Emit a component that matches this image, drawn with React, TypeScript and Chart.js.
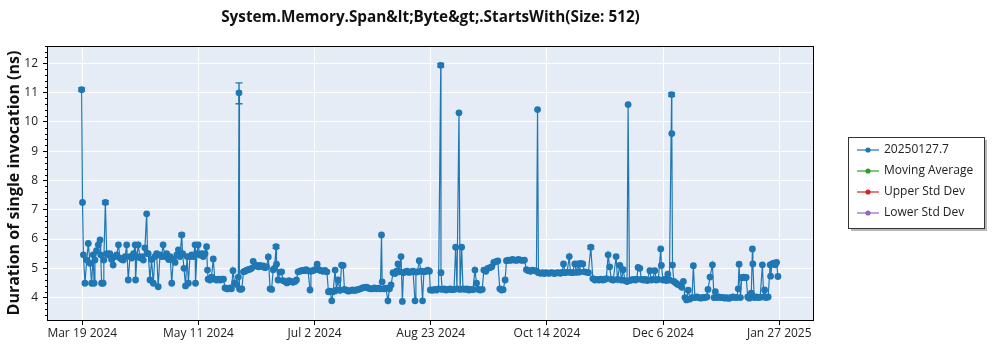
import React, { useEffect, useRef } from "react";
import { Chart, registerables } from "chart.js";

Chart.register(...registerables);

// Day offsets are counted from Mar 19 2024 (day 0).
const titleText = "System.Memory.Span&lt;Byte&gt;.StartsWith(Size: 512)";
const yTitle = "Duration of single invocation (ns)";
const tickLabels = ["Mar 19 2024", "May 11 2024", "Jul 2 2024", "Aug 23 2024", "Oct 14 2024", "Dec 6 2024", "Jan 27 2025"];
const tickDays = [0, 52.33, 104.67, 157, 209.33, 261.67, 314];
const yTickValues = [4, 5, 6, 7, 8, 9, 10, 11, 12];

const seriesNames = ["20250127.7", "Moving Average", "Upper Std Dev", "Lower Std Dev"];
const seriesColors = ["#1f77b4", "#2ca02c", "#d62728", "#9467bd"];

// Mar - May
const springDays = [-0.3, 0.1, 0.5, 1.2, 2.0, 2.7, 3.5, 4.2, 4.9, 5.3, 5.7, 6.4, 7.2, 8.0, 8.3, 8.7, 9.4, 9.7, 10.4, 11.0, 11.8, 12.4, 13.2, 13.9, 14.8, 15.5, 16.3, 17.0, 17.8, 18.5, 19.3, 20.0, 20.7, 21.5, 22.3, 23.1, 23.8, 24.0, 24.6, 25.2, 26.0, 26.8, 27.5, 28.2, 29.0, 29.4, 29.7, 30.5, 31.2, 32.0, 32.7, 33.5, 34.2, 35.0, 35.7, 36.4, 37.2, 38.0, 38.9, 39.6, 40.3, 41.0, 41.8, 42.6, 43.3, 44.0, 44.8, 45.2, 45.8, 46.5, 47.2, 47.8, 48.5, 49.3, 50.0, 50.8, 51.0, 51.7, 52.2, 53.0, 53.8, 54.5, 55.3, 56.0, 56.4, 56.7, 57.5, 58.2, 59.0, 59.7, 60.5, 61.4, 62.1, 63.0, 63.6, 64.3, 65.1, 65.9, 66.6, 67.2, 67.9, 68.6, 69.5, 70.3, 70.6, 70.8, 71.3, 71.9, 72.6, 73.3];
const springValues = [11.1, 7.25, 5.46, 4.49, 5.28, 5.85, 5.17, 4.49, 5.46, 4.49, 5.28, 5.6, 5.8, 5.97, 5.46, 4.49, 4.49, 5.28, 7.25, 5.5, 5.45, 5.5, 5.3, 5.11, 5.4, 5.46, 5.8, 5.35, 5.3, 5.28, 5.4, 5.8, 4.6, 5.4, 5.35, 5.5, 5.8, 4.6, 5.4, 5.8, 5.36, 5.4, 5.28, 5.7, 6.86, 5.5, 5.5, 4.6, 5.3, 4.49, 5.4, 5.5, 4.37, 5.46, 5.4, 5.8, 5.4, 5.5, 5.3, 5.4, 4.49, 5.3, 5.2, 5.46, 5.63, 5.4, 6.14, 5.5, 5.0, 4.4, 5.4, 4.49, 5.4, 5.46, 5.4, 5.8, 4.49, 5.5, 5.8, 5.45, 5.5, 5.4, 5.5, 5.74, 4.94, 4.63, 4.6, 4.7, 5.32, 4.63, 4.6, 4.63, 4.6, 4.63, 4.63, 4.33, 4.3, 4.3, 4.33, 4.3, 4.92, 4.5, 4.45, 4.7, 10.99, 4.3, 4.28, 4.3, 4.88, 4.9];

// Jun - Aug
const summerDays = [74.1, 74.8, 75.5, 76.3, 77.0, 77.8, 78.5, 79.3, 80.0, 80.8, 81.5, 82.3, 83.0, 83.8, 84.6, 85.3, 86.0, 86.6, 87.3, 87.5, 88.2, 89.1, 89.8, 90.4, 91.3, 92.2, 93.1, 94.0, 94.9, 95.8, 96.5, 97.2, 98.1, 99.0, 99.9, 100.8, 101.7, 102.6, 103.0, 103.9, 104.8, 105.8, 106.6, 107.5, 108.4, 109.3, 110.2, 110.9, 111.6, 112.4, 113.0, 113.9, 114.5, 115.2, 116.1, 116.8, 117.5, 118.1, 119.0, 119.9, 120.8, 121.7, 122.6, 123.5, 124.4, 125.3, 126.2, 127.1, 128.1, 128.9, 129.8, 130.7, 131.6, 132.5, 133.4, 134.3, 134.8, 135.1, 135.9, 136.8, 137.7, 138.4, 139.1, 140.0, 140.9, 141.6, 142.2, 142.9, 143.6, 144.2, 144.7, 145.4, 146.3, 147.2, 148.1, 149.0, 149.9, 150.3, 151.0, 151.8, 152.6, 153.3, 153.9, 154.8, 155.7, 156.4, 156.8, 157.8, 158.7, 159.6, 160.5, 161.5, 161.6, 162.1, 163.0, 163.9, 164.8, 165.7];
const summerValues = [4.94, 4.95, 4.97, 5.0, 5.24, 5.08, 5.1, 5.05, 5.1, 5.06, 5.08, 5.02, 5.05, 5.39, 4.3, 4.28, 4.95, 5.0, 5.74, 5.14, 4.6, 4.87, 4.88, 4.58, 4.55, 4.5, 4.58, 4.55, 4.52, 4.55, 4.6, 4.88, 4.9, 4.93, 4.92, 4.95, 4.92, 4.26, 4.9, 4.92, 4.95, 5.14, 4.95, 4.92, 4.9, 4.93, 4.88, 4.2, 4.22, 3.89, 4.2, 4.94, 4.25, 4.6, 4.25, 5.11, 5.1, 4.28, 4.25, 4.22, 4.24, 4.26, 4.24, 4.26, 4.28, 4.3, 4.33, 4.35, 4.36, 4.32, 4.3, 4.3, 4.33, 4.3, 4.32, 4.3, 6.14, 4.54, 4.3, 4.32, 3.89, 4.3, 4.43, 4.85, 4.82, 4.9, 5.15, 4.88, 5.4, 3.87, 4.85, 4.88, 4.9, 4.86, 4.88, 4.9, 3.89, 4.87, 4.88, 5.26, 4.9, 3.89, 4.88, 4.9, 4.94, 4.9, 4.26, 4.25, 4.28, 4.26, 4.3, 11.93, 4.85, 4.28, 4.3, 4.26, 4.28, 4.3];

// Sep - Nov
const autumnDays = [166.6, 167.5, 168.2, 168.8, 169.7, 170.2, 170.9, 171.5, 172.4, 173.3, 174.2, 175.1, 176.0, 176.9, 177.6, 178.4, 179.3, 180.2, 180.9, 181.8, 182.7, 183.6, 184.5, 185.4, 186.3, 187.2, 188.1, 188.9, 189.6, 190.5, 191.1, 192.0, 192.9, 193.8, 194.7, 195.6, 196.5, 197.4, 198.3, 199.2, 200.1, 201.0, 201.9, 202.8, 203.7, 204.6, 205.1, 205.5, 206.4, 207.3, 208.1, 209.0, 209.9, 210.8, 211.7, 212.6, 213.5, 214.4, 215.4, 216.1, 216.8, 217.5, 218.4, 219.4, 219.9, 220.8, 221.9, 222.6, 223.3, 224.0, 224.6, 225.5, 226.2, 227.1, 228.0, 229.1, 230.0, 230.9, 231.8, 232.7, 233.6, 234.5, 235.4, 236.1, 236.9, 237.6, 238.3, 239.2, 240.5, 241.1, 242.2, 242.9, 243.7, 244.5, 245.4, 245.9, 246.5, 247.4, 248.3, 249.2, 249.8, 250.4, 251.2, 251.9, 252.8, 253.7, 254.5, 255.7, 256.3];
const autumnValues = [4.27, 4.28, 5.72, 4.3, 10.31, 4.28, 5.72, 4.3, 4.28, 4.3, 4.26, 4.28, 4.27, 4.94, 4.49, 4.28, 4.26, 4.28, 4.94, 4.9, 5.0, 5.02, 5.05, 5.2, 5.23, 5.25, 4.3, 4.26, 4.27, 4.6, 5.26, 5.28, 5.27, 5.3, 5.28, 5.27, 5.3, 5.28, 5.27, 5.28, 4.95, 4.92, 4.9, 4.94, 4.92, 4.9, 10.42, 4.85, 4.83, 4.85, 4.82, 4.85, 4.83, 4.84, 4.85, 4.82, 4.84, 4.85, 4.83, 4.86, 5.15, 4.85, 4.87, 5.4, 4.86, 4.85, 5.15, 4.86, 5.15, 4.87, 5.17, 5.15, 4.88, 4.87, 4.85, 5.72, 4.65, 4.6, 4.62, 4.6, 4.63, 4.6, 4.62, 4.65, 5.46, 5.05, 4.62, 4.6, 5.4, 4.62, 5.1, 4.6, 4.95, 4.58, 4.55, 10.59, 4.58, 4.6, 4.62, 4.6, 4.63, 5.03, 5.0, 4.62, 4.6, 4.62, 4.58, 4.92, 4.6];

// Dec - Jan
const winterDays = [257.0, 257.9, 258.6, 259.5, 260.6, 260.9, 261.6, 262.5, 263.1, 263.8, 264.5, 265.5, 265.6, 265.9, 266.5, 267.4, 268.3, 269.2, 270.1, 270.8, 271.5, 272.2, 273.0, 273.8, 274.7, 275.3, 276.0, 276.9, 277.8, 278.7, 279.6, 280.5, 281.4, 281.9, 282.8, 283.9, 284.6, 285.2, 285.9, 286.8, 287.7, 288.6, 289.5, 290.4, 291.3, 292.2, 293.1, 294.0, 294.9, 295.5, 295.9, 296.5, 297.1, 297.8, 298.5, 299.1, 299.8, 300.5, 301.4, 301.9, 302.1, 302.7, 303.6, 304.5, 305.4, 306.4, 307.0, 307.4, 308.1, 309.0, 309.9, 310.1, 310.8, 311.5, 312.2, 312.8, 313.4];
const winterValues = [4.62, 4.92, 4.6, 4.62, 5.66, 5.1, 4.6, 4.62, 4.58, 4.8, 4.6, 10.93, 9.6, 5.11, 4.55, 4.5, 4.45, 4.42, 4.35, 4.55, 4.0, 3.92, 4.25, 3.95, 4.0, 5.09, 4.0, 4.02, 4.0, 3.98, 4.01, 4.0, 4.02, 4.28, 4.7, 5.12, 4.0, 4.2, 4.0, 4.02, 4.0, 4.01, 3.98, 4.0, 3.97, 4.0, 4.02, 4.01, 4.0, 4.3, 5.14, 4.0, 4.68, 4.7, 4.68, 4.69, 4.02, 3.98, 4.15, 5.66, 5.15, 4.0, 4.02, 4.0, 4.01, 5.12, 4.02, 4.26, 4.0, 4.02, 5.12, 4.73, 5.15, 5.18, 5.12, 5.2, 4.72];

// Error bars (visible ones only)
const errDays = [-0.3, 10.4, 44.8, 70.6, 87.3, 161.5, 229.1, 265.5];
const errLow = [11.04, 7.19, 6.09, 10.62, 5.68, 11.87, 5.67, 10.87];
const errHigh = [11.16, 7.31, 6.19, 11.33, 5.79, 11.99, 5.77, 10.99];

const FONT = "'Open Sans', 'Noto Sans', sans-serif";

export default function App() {
  const ref = useRef<HTMLCanvasElement>(null);

  useEffect(() => {
    const toPts = (d: number[], v: number[]) => d.map((x, i) => ({ x, y: v[i] }));
    const mainData = [
      ...toPts(springDays, springValues),
      ...toPts(summerDays, summerValues),
      ...toPts(autumnDays, autumnValues),
      ...toPts(winterDays, winterValues),
    ];

    const bgPlugin = {
      id: "bg",
      beforeDraw(chart: any) {
        const { ctx, chartArea: a } = chart;
        ctx.save();
        ctx.fillStyle = "#ffffff";
        ctx.fillRect(0, 0, chart.width, chart.height);
        ctx.fillStyle = "#E5ECF6";
        ctx.fillRect(a.left, a.top, a.right - a.left, a.bottom - a.top);
        ctx.restore();
      },
    };

    const errPlugin = {
      id: "errbars",
      afterDatasetsDraw(chart: any) {
        const { ctx } = chart;
        const xs = chart.scales.x;
        const ys = chart.scales.y;
        ctx.save();
        ctx.strokeStyle = seriesColors[0];
        ctx.lineWidth = 1.4;
        for (let i = 0; i < errDays.length; i++) {
          const x = xs.getPixelForValue(errDays[i]);
          const y1 = ys.getPixelForValue(errLow[i]);
          const y2 = ys.getPixelForValue(errHigh[i]);
          ctx.beginPath();
          ctx.moveTo(x, y1);
          ctx.lineTo(x, y2);
          ctx.moveTo(x - 3.5, y1);
          ctx.lineTo(x + 3.5, y1);
          ctx.moveTo(x - 3.5, y2);
          ctx.lineTo(x + 3.5, y2);
          ctx.stroke();
        }
        ctx.restore();
      },
    };

    const framePlugin = {
      id: "frame",
      afterDraw(chart: any) {
        const { ctx, chartArea: a } = chart;
        const ys = chart.scales.y;
        ctx.save();
        // minor ticks
        ctx.strokeStyle = "#000";
        ctx.lineWidth = 1;
        ctx.beginPath();
        for (let k = 17; k <= 63; k++) {
          if (k % 5 === 0) continue;
          const v = k / 5;
          const y = Math.round(ys.getPixelForValue(v)) + 0.5;
          if (y < a.top || y > a.bottom) continue;
          ctx.moveTo(a.left - 3, y);
          ctx.lineTo(a.left, y);
        }
        ctx.stroke();
        ctx.strokeRect(Math.round(a.left) - 0.5, Math.round(a.top) + 0.5, Math.round(a.right - a.left) + 1, Math.round(a.bottom - a.top));
        // title
        ctx.fillStyle = "#111";
        ctx.font = `bold 15.3px ${FONT}`;
        ctx.textAlign = "center";
        ctx.textBaseline = "middle";
        ctx.fillText(titleText, (a.left + a.right) / 2, 18);
        // legend
        const bx = 848, by = 137, bw = 136, bh = 91;
        ctx.fillStyle = "rgba(0,0,0,0.28)";
        ctx.fillRect(bx + 3, by + 3, bw, bh);
        ctx.fillStyle = "#fff";
        ctx.fillRect(bx, by, bw, bh);
        ctx.strokeStyle = "#333";
        ctx.lineWidth = 1;
        ctx.strokeRect(bx + 0.5, by + 0.5, bw, bh);
        ctx.font = `12px ${FONT}`;
        ctx.textAlign = "left";
        chart.data.datasets.forEach((ds: any, i: number) => {
          const y = by + 13 + i * 21;
          ctx.strokeStyle = ds.borderColor;
          ctx.lineWidth = 1.2;
          ctx.beginPath();
          ctx.moveTo(857, y);
          ctx.lineTo(879, y);
          ctx.stroke();
          ctx.fillStyle = ds.borderColor;
          ctx.beginPath();
          ctx.arc(868, y, 2.6, 0, Math.PI * 2);
          ctx.fill();
          ctx.fillStyle = "#222";
          ctx.fillText(ds.label, 884, y);
        });
        ctx.restore();
      },
    };

    const chart = new Chart(ref.current as HTMLCanvasElement, {
      type: "line",
      data: {
        datasets: [
          {
            label: seriesNames[0],
            data: mainData,
            borderColor: seriesColors[0],
            backgroundColor: seriesColors[0],
            borderWidth: 1.2,
            pointRadius: 3.4,
            pointHoverRadius: 3.4,
            pointBorderWidth: 0,
            pointBackgroundColor: seriesColors[0],
            tension: 0,
          },
          ...[1, 2, 3].map((i) => ({
            label: seriesNames[i],
            data: [] as any[],
            borderColor: seriesColors[i],
            backgroundColor: seriesColors[i],
          })),
        ],
      },
      options: {
        animation: false,
        responsive: false,
        layout: { padding: { top: 46, right: 187, bottom: 0, left: 0 } },
        plugins: { legend: { display: false }, title: { display: false }, tooltip: { enabled: false } },
        scales: {
          x: {
            type: "linear",
            min: -15.45,
            max: 329.2,
            afterBuildTicks: (s: any) => {
              s.ticks = tickDays.map((v) => ({ value: v }));
            },
            afterFit: (s: any) => {
              s.height = 30;
            },
            ticks: {
              callback: (_v: any, i: number) => tickLabels[i],
              font: { family: FONT, size: 12 },
              color: "#222",
              padding: 1,
              maxRotation: 0,
              autoSkip: false,
            },
            grid: { color: "#ffffff", tickColor: "#000", tickLength: 5, lineWidth: 1 },
            border: { display: false },
          },
          y: {
            type: "linear",
            min: 3.235,
            max: 12.59,
            afterBuildTicks: (s: any) => {
              s.ticks = yTickValues.map((v) => ({ value: v }));
            },
            afterFit: (s: any) => {
              s.width = 48;
            },
            ticks: {
              font: { family: FONT, size: 12 },
              color: "#222",
              padding: 5,
            },
            grid: { color: "#ffffff", tickColor: "#000", tickLength: 5, lineWidth: 1 },
            border: { display: false },
            title: {
              display: true,
              text: yTitle,
              font: { family: FONT, size: 16, weight: "bold" },
              color: "#111",
              padding: { top: 5, bottom: 0 },
            },
          },
        },
      },
      plugins: [bgPlugin, errPlugin, framePlugin],
    } as any);

    return () => chart.destroy();
  }, []);

  return (
    <div style={{ position: "fixed", left: 0, top: 0, width: 1000, height: 350 }}>
      <canvas ref={ref} width={1000} height={350} />
    </div>
  );
}
